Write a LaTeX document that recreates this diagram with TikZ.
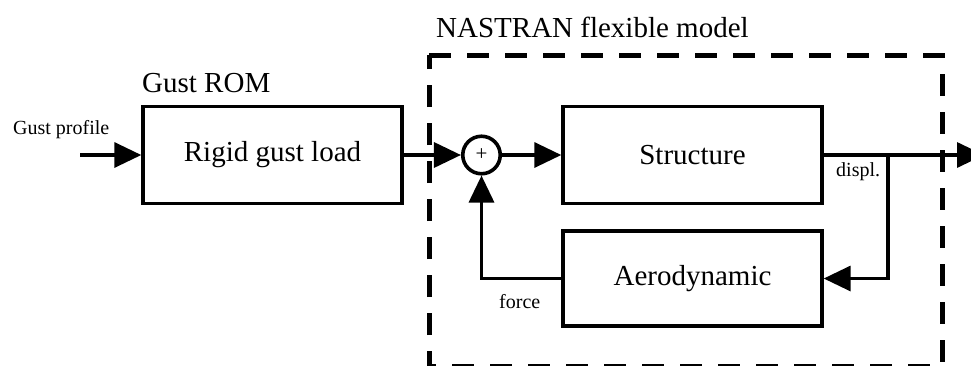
\documentclass[tikz,border=0pt]{standalone}
\usepackage{fontspec}
\setmainfont{Liberation Serif}
\usetikzlibrary{arrows.meta}
\begin{document}
\begin{tikzpicture}[x=1pt,y=-1pt,
  blockbox/.style={draw, line width=3.4pt, rectangle, inner sep=0pt, minimum width=259pt, minimum height=97pt, font=\fontsize{29}{34}\selectfont},
  sumnode/.style={draw, circle, line width=3.6pt, inner sep=0pt, minimum size=37.5pt, font=\fontsize{21}{24}\selectfont},
  conn/.style={line width=3.4pt, -{Triangle[length=27pt,width=25pt]}},
  bigtext/.style={font=\fontsize{29}{34}\selectfont, inner sep=0pt},
  smalltext/.style={font=\fontsize{20}{24}\selectfont, inner sep=0pt},
  framebox/.style={line width=5pt, dash pattern=on 22pt off 16pt}]
\useasboundingbox (0,0) rectangle (971,365);

% dashed frame
\draw[framebox] (429,55) -- (942,55) -- (942,366) -- (429,366) -- cycle;

% blocks
\node[blockbox] (rigid) at (272.5,155) {Rigid gust load};
\node[blockbox] (struct) at (692.5,155) {Structure};
\node[blockbox, minimum height=95pt] (aero) at (692.5,278.5) {Aerodynamic};
\node[sumnode] (sum) at (481.5,155) {\raisebox{-1pt}{+}};

% labels
\node[bigtext, anchor=base west] (lnas) at (436,37) {NASTRAN flexible model};
\node[bigtext, anchor=base west] (lrom) at (142,92) {Gust ROM};
\node[smalltext, anchor=base west] (lgp) at (13,134) {Gust profile};
\node[smalltext, anchor=base west] (ldis) at (836,176) {displ.};
\node[smalltext, anchor=base west] (lfor) at (499,308) {force};

% coordinates
\coordinate (in) at (80,155);
\coordinate (out) at (984,155);
\coordinate (j) at (888,155);

% connectors
\draw[conn] (in) -- (rigid.west);
\draw[conn] (rigid.east) -- (sum.west);
\draw[conn] (sum.east) -- (struct.west);
\draw[conn] (struct.east) -- (out);
\draw[conn] (j) |- (aero.east);
\draw[conn] (aero.west) -| (sum.south);
\end{tikzpicture}
\end{document}
